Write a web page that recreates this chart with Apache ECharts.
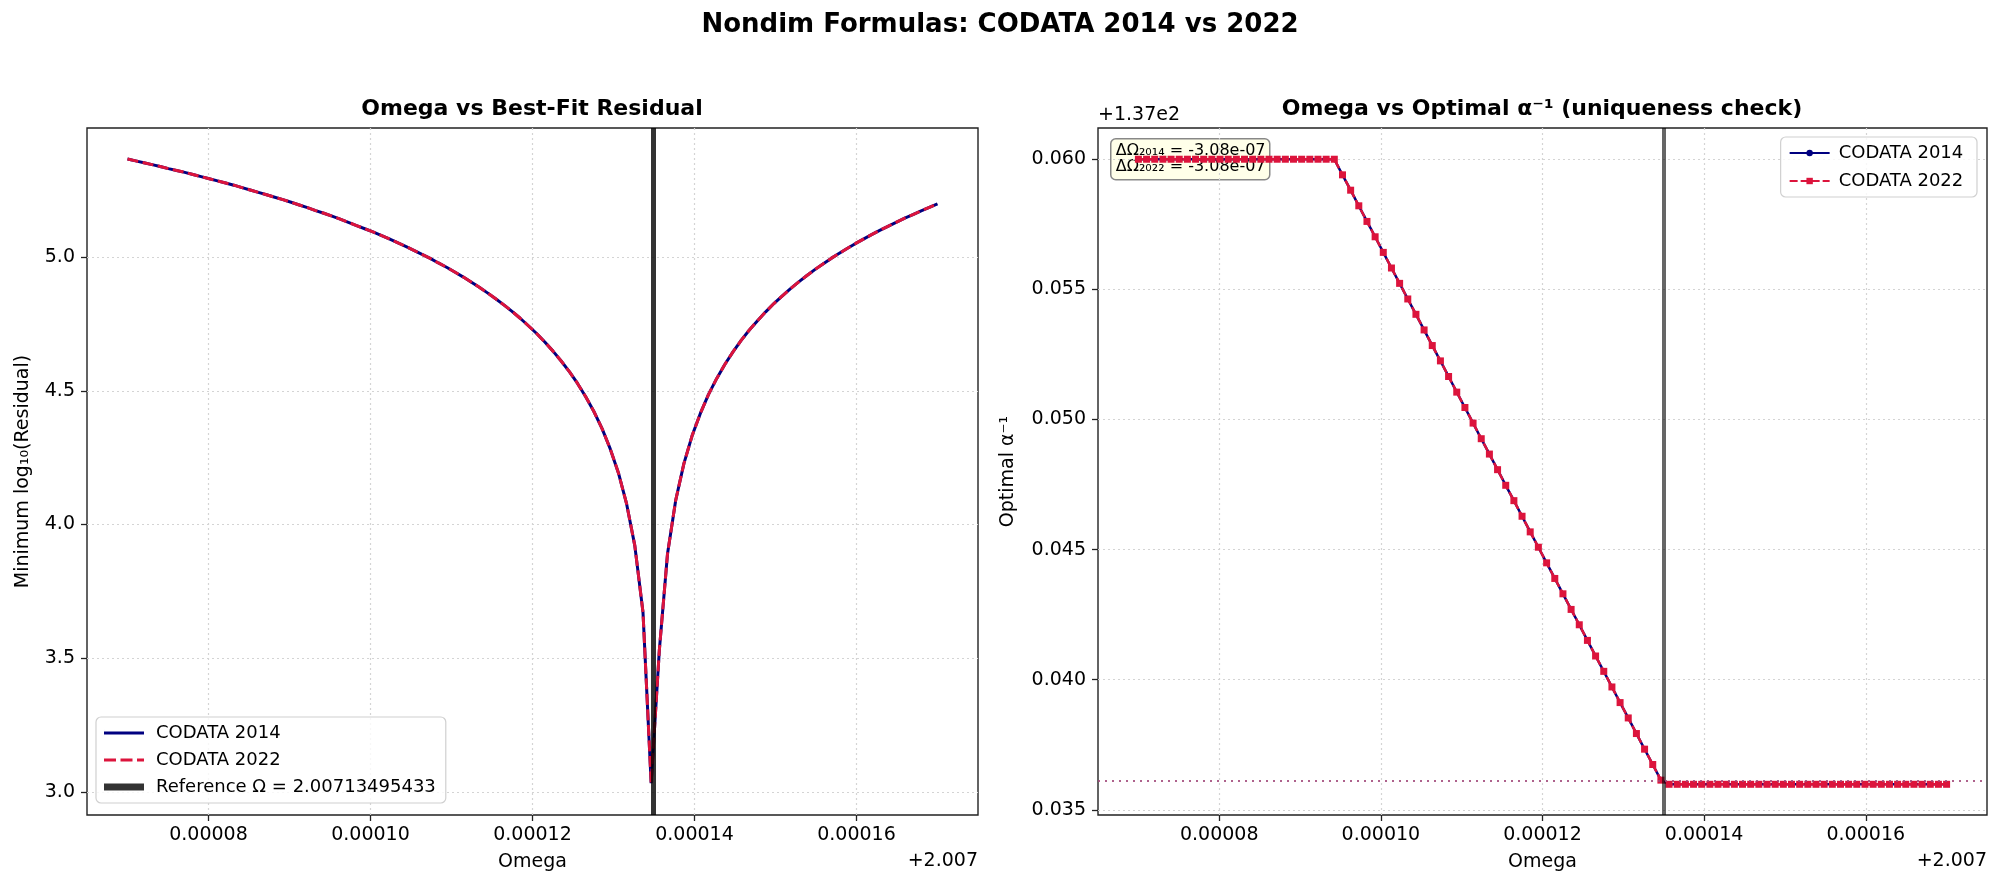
<!DOCTYPE html>
<html>
<head>
<meta charset="utf-8">
<script src="https://cdn.jsdelivr.net/npm/echarts@6/dist/echarts.min.js"></script>
<style>
  html, body { margin: 0; padding: 0; background: #fff; }
  #chart { width: 2001px; height: 888px; }
</style>
</head>
<body>
<div id="chart"></div>
<script>
// Omega offsets from 2.007, in units of 1e-6
const omegaE6 = [
  70.00, 71.01, 72.02, 73.03, 74.04, 75.05, 76.06, 77.07, 78.08, 79.09,
  80.10, 81.11, 82.12, 83.13, 84.14, 85.15, 86.16, 87.17, 88.18, 89.19,
  90.20, 91.21, 92.22, 93.23, 94.24, 95.25, 96.26, 97.27, 98.28, 99.29,
  100.30, 101.31, 102.32, 103.33, 104.34, 105.35, 106.36, 107.37, 108.38, 109.39,
  110.40, 111.41, 112.42, 113.43, 114.44, 115.45, 116.46, 117.47, 118.48, 119.49,
  120.51, 121.52, 122.53, 123.54, 124.55, 125.56, 126.57, 127.58, 128.59, 129.60,
  130.61, 131.62, 132.63, 133.64, 134.65, 135.66, 136.67, 137.68, 138.69, 139.70,
  140.71, 141.72, 142.73, 143.74, 144.75, 145.76, 146.77, 147.78, 148.79, 149.80,
  150.81, 151.82, 152.83, 153.84, 154.85, 155.86, 156.87, 157.88, 158.89, 159.90,
  160.91, 161.92, 162.93, 163.94, 164.95, 165.96, 166.97, 167.98, 168.99, 170.00
];

// minimum log10(residual)
const resid2014 = [
  5.368, 5.361, 5.354, 5.347, 5.340, 5.332, 5.325, 5.318, 5.310, 5.302,
  5.294, 5.286, 5.278, 5.270, 5.261, 5.252, 5.243, 5.234, 5.225, 5.216,
  5.206, 5.196, 5.186, 5.175, 5.165, 5.154, 5.143, 5.131, 5.119, 5.107,
  5.095, 5.082, 5.069, 5.055, 5.041, 5.026, 5.011, 4.996, 4.979, 4.963,
  4.945, 4.927, 4.908, 4.888, 4.867, 4.845, 4.822, 4.798, 4.772, 4.744,
  4.715, 4.683, 4.649, 4.612, 4.572, 4.528, 4.478, 4.423, 4.359, 4.283,
  4.193, 4.077, 3.921, 3.672, 3.032, 3.530, 3.891, 4.091, 4.228, 4.332,
  4.415, 4.486, 4.546, 4.599, 4.646, 4.689, 4.728, 4.763, 4.796, 4.827,
  4.855, 4.882, 4.907, 4.931, 4.954, 4.975, 4.996, 5.015, 5.034, 5.052,
  5.069, 5.086, 5.102, 5.117, 5.132, 5.147, 5.160, 5.174, 5.187, 5.200
];
const resid2022 = resid2014.slice(); // curves coincide

// optimal alpha^-1 minus 137
const alpha2014 = [
  0.0600, 0.0600, 0.0600, 0.0600, 0.0600, 0.0600, 0.0600, 0.0600, 0.0600, 0.0600,
  0.0600, 0.0600, 0.0600, 0.0600, 0.0600, 0.0600, 0.0600, 0.0600, 0.0600, 0.0600,
  0.0600, 0.0600, 0.0600, 0.0600, 0.0600, 0.05940, 0.05881, 0.05821, 0.05761, 0.05702,
  0.05642, 0.05582, 0.05523, 0.05463, 0.05404, 0.05344, 0.05284, 0.05225, 0.05165, 0.05105,
  0.05046, 0.04986, 0.04926, 0.04867, 0.04807, 0.04747, 0.04688, 0.04628, 0.04568, 0.04509,
  0.04449, 0.04389, 0.04330, 0.04270, 0.04211, 0.04151, 0.04091, 0.04032, 0.03972, 0.03912,
  0.03853, 0.03793, 0.03733, 0.03674, 0.03614, 0.03598, 0.03598, 0.03598, 0.03598, 0.03598,
  0.03598, 0.03598, 0.03598, 0.03598, 0.03598, 0.03598, 0.03598, 0.03598, 0.03598, 0.03598,
  0.03598, 0.03598, 0.03598, 0.03598, 0.03598, 0.03598, 0.03598, 0.03598, 0.03598, 0.03598,
  0.03598, 0.03598, 0.03598, 0.03598, 0.03598, 0.03598, 0.03598, 0.03598, 0.03598, 0.03598
];
const alpha2022 = alpha2014.slice();

const refOmegaE6 = 134.95433;   // 2.00713495433
const refAlphaLine = 0.03612;

const xTicks = [80, 100, 120, 140, 160];
const yTicksLeft = [3.0, 3.5, 4.0, 4.5, 5.0];
const yTicksRight = [0.035, 0.040, 0.045, 0.050, 0.055, 0.060];

const FONT = 'DejaVu Sans';
const pair = (xs, ys) => xs.map((x, i) => [x, ys[i]]);

const myChart = echarts.init(document.getElementById('chart'));

const gridLine = { show: true, lineStyle: { color: '#d4d4d4', type: [2, 3], width: 1.2 } };

function xAxisFor(gi) {
  return {
    type: 'value', gridIndex: gi, min: 65, max: 175,
    name: 'Omega', nameLocation: 'middle', nameGap: 38,
    nameTextStyle: { fontFamily: FONT, fontSize: 19, color: '#000' },
    axisLine: { show: false },
    axisTick: { show: true, inside: false, length: 6, customValues: xTicks, lineStyle: { color: '#222', width: 1.3 } },
    axisLabel: { customValues: xTicks, margin: 11, fontFamily: FONT, fontSize: 19, color: '#000',
      formatter: v => (v * 1e-6).toFixed(5) },
    splitLine: gridLine
  };
}

// legend handles: a thin invisible sliver keeps the 8px box height
const ICON_SOLID = 'path://M0,0h0.01v8h-0.01z M0,2.5h40v3h-40z';
const ICON_DASH = 'path://M0,0h0.01v8h-0.01z M0,2.5h12v3h-12z M16.5,2.5h12v3h-12z M33,2.5h7v3h-7z';
const ICON_THICK = 'path://M0,0h0.01v8h-0.01z M0,0.5h40v7h-40z';

const option = {
  animation: false,
  backgroundColor: '#fff',
  title: [
    { text: 'Nondim Formulas: CODATA 2014 vs 2022', left: 1000, top: 12, textAlign: 'center', padding: 0,
      textStyle: { fontFamily: FONT, fontSize: 26, fontWeight: 'bold', color: '#000' } },
    { text: 'Omega vs Best-Fit Residual', left: 532, top: 98, textAlign: 'center', padding: 0,
      textStyle: { fontFamily: FONT, fontSize: 22, fontWeight: 'bold', color: '#000' } },
    { text: 'Omega vs Optimal α⁻¹ (uniqueness check)', left: 1542, top: 98, textAlign: 'center', padding: 0,
      textStyle: { fontFamily: FONT, fontSize: 22, fontWeight: 'bold', color: '#000' } }
  ],
  grid: [
    { left: 87, right: 1023, top: 128, bottom: 73, show: true, borderColor: '#222', borderWidth: 1.4, backgroundColor: 'transparent' },
    { left: 1098, right: 14, top: 128, bottom: 73, show: true, borderColor: '#222', borderWidth: 1.4, backgroundColor: 'transparent' }
  ],
  xAxis: [xAxisFor(0), xAxisFor(1)],
  yAxis: [
    {
      type: 'value', gridIndex: 0, min: 2.913, max: 5.484,
      name: 'Minimum log₁₀(Residual)', nameLocation: 'middle', nameGap: 54, nameRotate: 90,
      nameTextStyle: { fontFamily: FONT, fontSize: 19, color: '#000' },
      axisLine: { show: false },
      axisTick: { show: true, length: 6, customValues: yTicksLeft, lineStyle: { color: '#222', width: 1.3 } },
      axisLabel: { customValues: yTicksLeft, margin: 12, fontFamily: FONT, fontSize: 19, color: '#000',
        formatter: v => v.toFixed(1) },
      splitLine: gridLine
    },
    {
      type: 'value', gridIndex: 1, min: 0.0348, max: 0.0612,
      name: 'Optimal α⁻¹', nameLocation: 'middle', nameGap: 80, nameRotate: 90,
      nameTextStyle: { fontFamily: FONT, fontSize: 19, color: '#000' },
      axisLine: { show: false },
      axisTick: { show: true, length: 6, customValues: yTicksRight, lineStyle: { color: '#222', width: 1.3 } },
      axisLabel: { customValues: yTicksRight, margin: 12, fontFamily: FONT, fontSize: 19, color: '#000',
        formatter: v => v.toFixed(3) },
      splitLine: gridLine
    }
  ],
  legend: [
    {
      data: [
        { name: 'CODATA 2014', icon: ICON_SOLID },
        { name: 'CODATA 2022', icon: ICON_DASH },
        { name: 'Reference Ω = 2.00713495433', icon: ICON_THICK }
      ],
      orient: 'vertical', left: 96, top: 717, itemWidth: 40, itemHeight: 8, itemGap: 9,
      padding: [7, 10, 7, 8], backgroundColor: 'rgba(255,255,255,0.8)', borderColor: '#d0d0d0',
      borderWidth: 1.2, borderRadius: 5,
      textStyle: { fontFamily: FONT, fontSize: 18, color: '#000', padding: [0, 0, 0, 7] }
    },
    {
      data: [{ name: 'CODATA 2014 ' }, { name: 'CODATA 2022 ' }],
      orient: 'vertical', right: 24, top: 137, itemWidth: 40, itemHeight: 8, itemGap: 10,
      padding: [7, 8, 7, 8], backgroundColor: 'rgba(255,255,255,0.8)', borderColor: '#d0d0d0',
      borderWidth: 1.2, borderRadius: 5,
      textStyle: { fontFamily: FONT, fontSize: 18, color: '#000', padding: [0, 0, 0, 4] }
    }
  ],
  graphic: [
    { type: 'text', left: 1098, top: 106, z: 100,
      style: { text: '+1.37e2', fontFamily: FONT, fontSize: 19, fill: '#000' } },
    { type: 'text', right: 1023, top: 852, z: 100,
      style: { text: '+2.007', fontFamily: FONT, fontSize: 19, fill: '#000' } },
    { type: 'text', right: 14, top: 852, z: 100,
      style: { text: '+2.007', fontFamily: FONT, fontSize: 19, fill: '#000' } },
    { type: 'group', left: 1110, top: 138, z: 100, children: [
      { type: 'rect', shape: { x: 0, y: 0, width: 159, height: 41, r: 5 },
        style: { fill: 'rgba(255,255,228,0.82)', stroke: '#888', lineWidth: 1.5 } },
      { type: 'text', x: 5, y: 4,
        style: { text: 'ΔΩ₂₀₁₄ = -3.08e-07\nΔΩ₂₀₂₂ = -3.08e-07', fontFamily: FONT, fontSize: 16,
          lineHeight: 16, fill: '#000' } }
    ] }
  ],
  series: [
    {
      name: 'CODATA 2014', type: 'line', xAxisIndex: 0, yAxisIndex: 0,
      data: pair(omegaE6, resid2014), symbol: 'none', z: 2,
      lineStyle: { color: '#000080', width: 3 }, itemStyle: { color: '#000080' }
    },
    {
      name: 'CODATA 2022', type: 'line', xAxisIndex: 0, yAxisIndex: 0,
      data: pair(omegaE6, resid2022), symbol: 'none', z: 3,
      lineStyle: { color: '#dc143c', width: 3, type: [11, 4.5] }, itemStyle: { color: '#dc143c' }
    },
    {
      name: 'Reference Ω = 2.00713495433', type: 'line', xAxisIndex: 0, yAxisIndex: 0,
      data: [], symbol: 'none', z: 4,
      lineStyle: { color: 'rgba(0,0,0,0.8)', width: 6 }, itemStyle: { color: 'rgba(0,0,0,0.8)' },
      markLine: { silent: true, symbol: 'none', precision: 8, label: { show: false },
        lineStyle: { color: 'rgba(0,0,0,0.8)', width: 5, type: 'solid' },
        data: [{ xAxis: refOmegaE6 }] }
    },
    {
      name: 'CODATA 2014 ', type: 'line', xAxisIndex: 1, yAxisIndex: 1,
      data: pair(omegaE6, alpha2014), symbol: 'circle', symbolSize: 5, z: 2,
      lineStyle: { color: '#000080', width: 2.5 }, itemStyle: { color: '#000080' },
      markLine: { silent: true, symbol: 'none', precision: 8, label: { show: false },
        lineStyle: { color: 'rgba(0,0,0,0.6)', width: 4, type: 'solid' },
        data: [{ xAxis: refOmegaE6 }] }
    },
    {
      name: 'CODATA 2022 ', type: 'line', xAxisIndex: 1, yAxisIndex: 1,
      data: pair(omegaE6, alpha2022), symbol: 'rect', symbolSize: 7, z: 3,
      lineStyle: { color: '#dc143c', width: 2.5, type: [8, 3] }, itemStyle: { color: '#dc143c' },
      markLine: { silent: true, symbol: 'none', precision: 8, label: { show: false },
        lineStyle: { color: 'rgba(160,70,120,0.85)', width: 2.2, type: [2, 5] },
        data: [{ yAxis: refAlphaLine }] }
    }
  ]
};

myChart.setOption(option);
</script>
</body>
</html>
